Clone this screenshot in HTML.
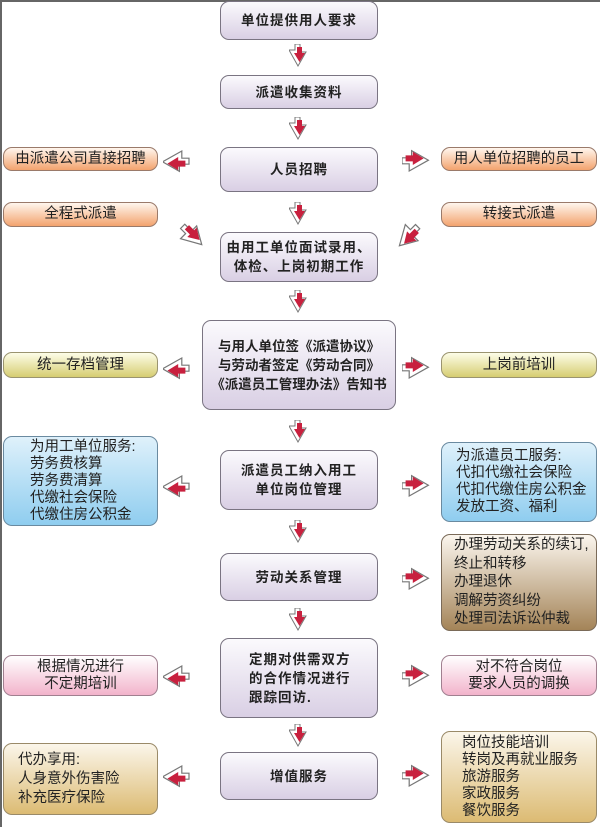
<!DOCTYPE html>
<html><head><meta charset="utf-8"><style>
body{margin:0;width:600px;height:827px;background:#fff;position:relative;overflow:hidden;font-family:"Liberation Sans","Noto Sans CJK SC",sans-serif}
.frame{position:absolute;left:0;top:0;width:600px;height:827px;border-top:2px solid #666;border-left:2px solid #666;box-sizing:border-box}
.b{position:absolute;box-sizing:border-box;border:1.5px solid #7a7482;border-radius:9px;display:flex;align-items:center;justify-content:center;text-align:center;color:#222;font-size:14.5px;line-height:17px}
.c{background:linear-gradient(#fbfafd,#d9cfe4);font-weight:bold;letter-spacing:1px;font-size:13.5px;line-height:19px}
.or{background:linear-gradient(#fff6ee,#f3a36e);border-color:#9a7a6a}
.ye{background:linear-gradient(#fdfde8,#d6cd72);border-color:#9a9470}
.bl{background:linear-gradient(#dff1fb,#8fcdef);border-color:#6a8aa0;justify-content:flex-start;text-align:left;padding-left:26px}
.pk{background:linear-gradient(#fff,#f2b3cb);border-color:#a08090}
.br1{background:linear-gradient(#fbf6ee,#a48458);border-color:#7a6a58;justify-content:flex-start;text-align:left;padding-left:12px;line-height:18.5px}
.br2{background:linear-gradient(#fbf6ea,#dcbb73);border-color:#9a8a68;justify-content:flex-start;text-align:left;padding-left:24px}
.l{left:3px;width:155px}.r{left:441px;width:156px}
svg{position:absolute}
</style></head><body>
<div class="frame"></div>
<svg width="0" height="0" style="position:absolute"><defs>
<g id="dn"><polygon points="0,6 6,6 6,0 11,0 11,8 17,8 9,22" fill="#fff" stroke="#777" stroke-width="1"/><polygon points="5,9 8,9 8,3 13,3 13,9 16,9 10.5,18" fill="#c8203e"/></g>
</defs></svg>
<div class="b c" style="left:220px;top:1px;width:158px;height:39px">单位提供用人要求</div>
<div class="b c" style="left:220px;top:75px;width:158px;height:34px">派遣收集资料</div>
<div class="b c" style="left:220px;top:147px;width:158px;height:45px">人员招聘</div>
<div class="b c" style="left:220px;top:232px;width:158px;height:50px">由用工单位面试录用、<br>体检、上岗初期工作</div>
<div class="b c" style="left:202px;top:320px;width:194px;height:90px;letter-spacing:0">与用人单位签《派遣协议》<br>与劳动者签定《劳动合同》<br>《派遣员工管理办法》告知书</div>
<div class="b c" style="left:220px;top:450px;width:158px;height:60px">派遣员工纳入用工<br>单位岗位管理</div>
<div class="b c" style="left:220px;top:553px;width:158px;height:48px">劳动关系管理</div>
<div class="b c" style="left:220px;top:638px;width:158px;height:80px;justify-content:flex-start;text-align:left;padding-left:28px">定期对供需双方<br>的合作情况进行<br>跟踪回访.</div>
<div class="b c" style="left:220px;top:752px;width:158px;height:48px">增值服务</div>
<div class="b l or" style="top:147px;height:24px">由派遣公司直接招聘</div>
<div class="b l or" style="top:202px;height:25px">全程式派遣</div>
<div class="b l ye" style="top:352px;height:26px">统一存档管理</div>
<div class="b l bl" style="top:436px;height:90px">为用工单位服务:<br>劳务费核算<br>劳务费清算<br>代缴社会保险<br>代缴住房公积金</div>
<div class="b l pk" style="top:655px;height:41px">根据情况进行<br>不定期培训</div>
<div class="b l br2" style="top:743px;height:72px;padding-left:14px;line-height:19px">代办享用:<br>人身意外伤害险<br>补充医疗保险</div>
<div class="b r or" style="top:147px;height:24px">用人单位招聘的员工</div>
<div class="b r or" style="top:202px;height:25px">转接式派遣</div>
<div class="b r ye" style="top:352px;height:26px">上岗前培训</div>
<div class="b r bl" style="top:442px;height:80px;padding-left:14px">为派遣员工服务:<br>代扣代缴社会保险<br>代扣代缴住房公积金<br>发放工资、福利</div>
<div class="b r br1" style="top:534px;height:97px">办理劳动关系的续订,<br>终止和转移<br>办理退休<br>调解劳资纠纷<br>处理司法诉讼仲裁</div>
<div class="b r pk" style="top:655px;height:41px">对不符合岗位<br>要求人员的调换</div>
<div class="b r br2" style="top:731px;height:92px;padding-left:20px">岗位技能培训<br>转岗及再就业服务<br>旅游服务<br>家政服务<br>餐饮服务</div>
<svg style="left:289px;top:44px" width="20" height="24"><use href="#dn"/></svg>
<svg style="left:289px;top:117px" width="20" height="24"><use href="#dn"/></svg>
<svg style="left:289px;top:202px" width="20" height="24"><use href="#dn"/></svg>
<svg style="left:289px;top:290px" width="20" height="24"><use href="#dn"/></svg>
<svg style="left:289px;top:420px" width="20" height="24"><use href="#dn"/></svg>
<svg style="left:289px;top:520px" width="20" height="24"><use href="#dn"/></svg>
<svg style="left:289px;top:608px" width="20" height="24"><use href="#dn"/></svg>
<svg style="left:289px;top:724px" width="20" height="24"><use href="#dn"/></svg>
<svg style="left:163px;top:148px" width="32" height="26"><g transform="rotate(90 13 13)"><use href="#dn" transform="translate(3,0) scale(1.2)"/></g></svg>
<svg style="left:163px;top:355px" width="32" height="26"><g transform="rotate(90 13 13)"><use href="#dn" transform="translate(3,0) scale(1.2)"/></g></svg>
<svg style="left:163px;top:473px" width="32" height="26"><g transform="rotate(90 13 13)"><use href="#dn" transform="translate(3,0) scale(1.2)"/></g></svg>
<svg style="left:163px;top:663px" width="32" height="26"><g transform="rotate(90 13 13)"><use href="#dn" transform="translate(3,0) scale(1.2)"/></g></svg>
<svg style="left:163px;top:763px" width="32" height="26"><g transform="rotate(90 13 13)"><use href="#dn" transform="translate(3,0) scale(1.2)"/></g></svg>
<svg style="left:402px;top:148px" width="32" height="26"><g transform="rotate(-90 13 13)"><use href="#dn" transform="translate(3,0) scale(1.2)"/></g></svg>
<svg style="left:402px;top:355px" width="32" height="26"><g transform="rotate(-90 13 13)"><use href="#dn" transform="translate(3,0) scale(1.2)"/></g></svg>
<svg style="left:402px;top:473px" width="32" height="26"><g transform="rotate(-90 13 13)"><use href="#dn" transform="translate(3,0) scale(1.2)"/></g></svg>
<svg style="left:402px;top:566px" width="32" height="26"><g transform="rotate(-90 13 13)"><use href="#dn" transform="translate(3,0) scale(1.2)"/></g></svg>
<svg style="left:402px;top:663px" width="32" height="26"><g transform="rotate(-90 13 13)"><use href="#dn" transform="translate(3,0) scale(1.2)"/></g></svg>
<svg style="left:402px;top:763px" width="32" height="26"><g transform="rotate(-90 13 13)"><use href="#dn" transform="translate(3,0) scale(1.2)"/></g></svg>
<svg style="left:176px;top:220px" width="30" height="30"><g transform="rotate(-45 15 15)"><use href="#dn" transform="translate(5,3) scale(1.2)"/></g></svg>
<svg style="left:394px;top:220px" width="30" height="30"><g transform="rotate(45 15 15)"><use href="#dn" transform="translate(5,3) scale(1.2)"/></g></svg>
</body></html>
